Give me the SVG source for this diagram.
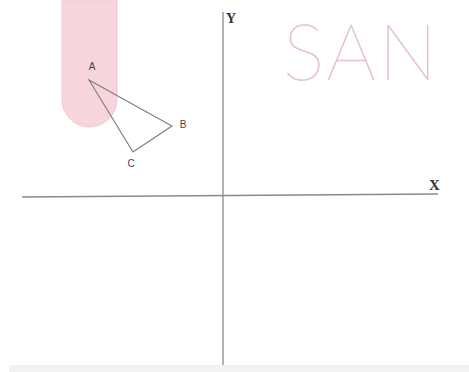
<svg xmlns="http://www.w3.org/2000/svg" width="469" height="372" viewBox="0 0 469 372">
<style>
.ax{stroke:#8a8a8a;stroke-width:1.3;fill:none}
.tri{stroke:#7a7a7a;stroke-width:1.1;fill:none;stroke-linejoin:miter}
.lbl{font-family:"Liberation Sans",Arial,sans-serif;font-size:10px;fill:#444;text-anchor:middle}
.axl{font-family:"Liberation Serif","Times New Roman",serif;font-weight:bold;fill:#333}
</style>
<rect width="469" height="372" fill="#ffffff"/>
<rect x="9" y="365" width="460" height="7" fill="#f2f2f2"/>
<g id="bar">
<path d="M62,0 L117,0 L117,99.5 A27.5,27.5 0 0 1 62,99.5 Z" fill="#f6d6dc" stroke="#f1c9d0" stroke-width="1"/>
</g>
<g id="san">
<text x="283" y="80" font-family="Lato,'Open Sans',sans-serif" font-weight="100" font-size="78" textLength="154" lengthAdjust="spacing" fill="#dfb0bc" stroke="#e8c4cc" stroke-width="0.6">SAN</text>
</g>
<g id="connectors">
<line class="ax" x1="223" y1="12" x2="223" y2="365"/>
<line class="ax" x1="22" y1="197" x2="438" y2="194"/>
<polygon class="tri" points="89,80 172,126 133,152"/>
</g>
<g id="axis-labels">
<text class="axl" x="226" y="23" font-size="14">Y</text>
<text class="axl" x="429" y="190" font-size="15">X</text>
</g>
<g id="A"><text class="lbl" x="92" y="70">A</text></g>
<g id="B"><text class="lbl" x="183" y="128">B</text></g>
<g id="C"><text class="lbl" x="131" y="167">C</text></g>
</svg>
